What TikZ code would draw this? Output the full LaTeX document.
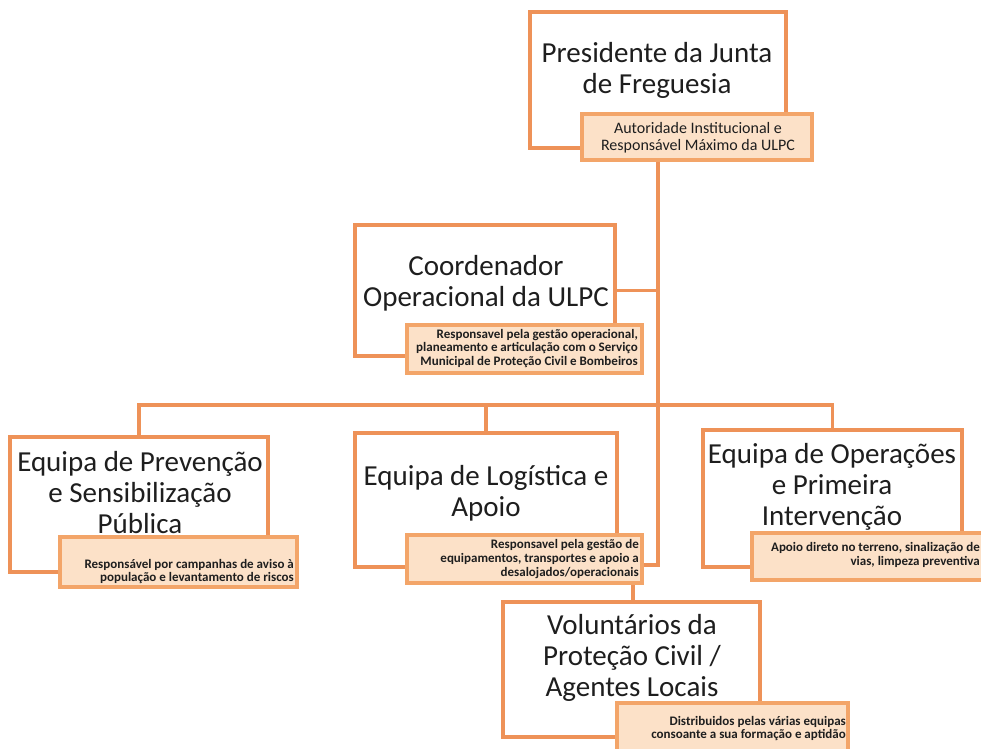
\documentclass[tikz,border=0pt]{standalone}
\usepackage{fontspec}
\setmainfont{Carlito}
\usetikzlibrary{backgrounds}
\definecolor{orbord}{RGB}{238,146,88}
\definecolor{lblfill}{RGB}{252,225,200}
\definecolor{lblbord}{RGB}{243,165,105}
\definecolor{txt}{RGB}{30,30,30}
\tikzset{
  mainbox/.style={draw=orbord, line width=4.5pt, fill=white, rectangle, inner sep=0pt},
  lblbox/.style={draw=lblbord, line width=3.5pt, fill=lblfill, rectangle, inner sep=0pt},
  maintext/.style={align=center, text=txt, font=\fontsize{29}{31}\selectfont, inner sep=0pt},
  lbltext/.style={align=right, text=txt, font=\bfseries\fontsize{13}{13.6}\selectfont, inner sep=0pt, anchor=east},
  conn/.style={draw=orbord, line width=3.5pt},
}
\begin{document}
\begin{tikzpicture}[x=1pt,y=-1pt]
\useasboundingbox (0,0) rectangle (981,748);
% main boxes
\node[mainbox, minimum width=256pt, minimum height=136pt] (pres) at (658,80) {};
\node[mainbox, minimum width=260pt, minimum height=131pt] (coord) at (485,290.5) {};
\node[mainbox, minimum width=258pt, minimum height=135pt] (prev) at (139,504.5) {};
\node[mainbox, minimum width=262pt, minimum height=134pt] (log) at (486,500) {};
\node[mainbox, minimum width=259pt, minimum height=137pt] (ops) at (832.5,498.5) {};
\node[mainbox, minimum width=257pt, minimum height=135pt] (vol) at (631.5,669.5) {};
% main texts
\node[maintext] (prest) at (657,70) {Presidente da Junta\\de Freguesia};
\node[maintext] (coordt) at (486,283) {Coordenador\\Operacional da ULPC};
\node[maintext] (prevt) at (140,493) {Equipa de Prevenção\\e Sensibilização\\Pública};
\node[maintext] (logt) at (486,493) {Equipa de Logística e\\Apoio};
\node[maintext] (opst) at (832,487) {Equipa de Operações\\e Primeira\\Intervenção};
\node[maintext] (volt) at (632,658) {Voluntários da\\Proteção Civil /\\Agentes Locais};
% labels
\node[lblbox, minimum width=230pt, minimum height=46pt] (presl) at (697,137) {};
\node[lblbox, minimum width=235pt, minimum height=48pt] (coordl) at (524.5,349) {};
\node[lblbox, minimum width=237pt, minimum height=50pt] (prevl) at (178.5,562) {};
\node[lblbox, minimum width=235pt, minimum height=48pt] (logl) at (524.5,559) {};
\node[lblbox, minimum width=238pt, minimum height=47pt] (opsl) at (871,556.5) {};
\node[lblbox, minimum width=231pt, minimum height=49pt] (voll) at (732.5,727.5) {};
% label texts
\node[align=center, text=txt, font=\fontsize{16}{17.5}\selectfont, inner sep=0pt] (preslt) at (698,137.5) {Autoridade Institucional e\\Responsável Máximo da ULPC};
\node[lbltext] (coordlt) at (638,348.5) {Responsavel pela gestão operacional,\\planeamento e articulação com o Serviço\\Municipal de Proteção Civil e Bombeiros};
\node[lbltext] (prevlt) at (294,571.5) {Responsável por campanhas de aviso à\\população e levantamento de riscos};
\node[lbltext] (loglt) at (639,559) {Responsavel pela gestão de\\equipamentos, transportes e apoio a\\desalojados/operacionais};
\node[lbltext] (opslt) at (980,555) {Apoio direto no terreno, sinalização de\\vias, limpeza preventiva};
\node[lbltext] (vollt) at (846,728.5) {Distribuidos pelas várias equipas\\consoante a sua formação e aptidão};
% connectors
\coordinate (trunk) at (658,0);
\coordinate (bar) at (0,405);
\coordinate (volx) at (633,0);
\coordinate (login) at ([yshift=-6pt]logl.east);
\begin{pgfonlayer}{background}
\draw[conn] (trunk |- presl.south) -- (trunk |- login) -- (login);
\draw[conn] (trunk |- coord.east) -- (coord.east);
\draw[conn] (prev.north) -- (prev.north |- bar) -- (ops.north |- bar) -- (ops.north);
\draw[conn] (log.north) -- (log.north |- bar);
\draw[conn] (volx |- logl.south) -- (volx |- vol.north);
\end{pgfonlayer}
\end{tikzpicture}
\end{document}
